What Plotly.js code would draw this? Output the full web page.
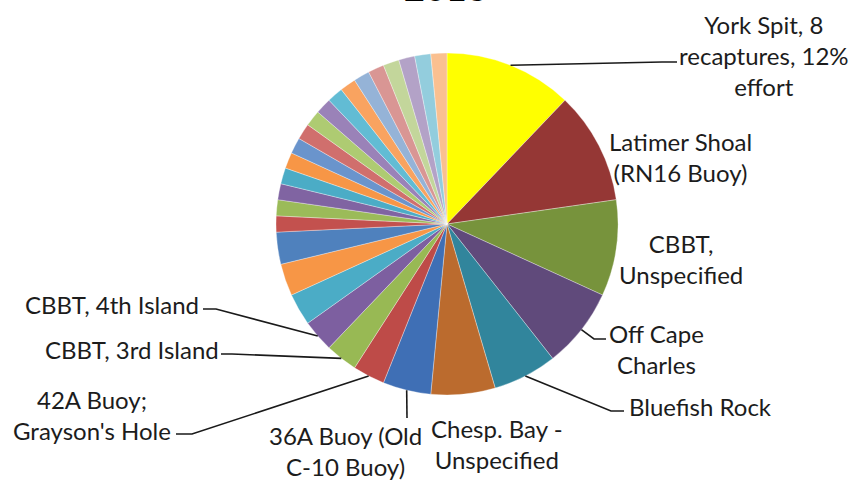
<!DOCTYPE html>
<html>
<head>
<meta charset="utf-8">
<script src="https://cdn.plot.ly/plotly-3.0.1.min.js"></script>
<style>html,body{margin:0;padding:0;background:#fff;}#chart{width:856px;height:483px;}</style>
</head>
<body>
<div id="chart"></div>
<script>
// ---- data ----
const chartTitle = "2013";
const siteNames = [
  "York Spit, 8<br>recaptures, 12%<br>effort",
  "Latimer Shoal<br>(RN16 Buoy)",
  "CBBT,<br>Unspecified",
  "Off Cape<br>Charles",
  "Bluefish Rock",
  "Chesp. Bay -<br>Unspecified",
  "36A Buoy (Old<br>C-10 Buoy)",
  "42A Buoy;<br>Grayson's Hole",
  "CBBT, 3rd Island",
  "CBBT, 4th Island",
  "Site 11","Site 12","Site 13","Site 14","Site 15","Site 16","Site 17","Site 18","Site 19","Site 20",
  "Site 21","Site 22","Site 23","Site 24","Site 25","Site 26","Site 27","Site 28","Site 29","Site 30"
];
const recaptures = [8, 7, 6, 5, 4, 4, 3, 2, 2, 2, 2, 2, 2,
  1, 1, 1, 1, 1, 1, 1, 1, 1, 1, 1, 1, 1, 1, 1, 1, 1];
const labelShown = [true,true,true,true,true,true,true,true,true,true];

// ---- styles ----
const sliceColors = [
  "#FFFF00","#953735","#77933C","#604A7B","#31859C","#BB6B2E","#3F6FB5",
  "#BE4B48","#98B954","#7D5FA0","#4BACC6","#F79646","#4F81BD",
  "#C3514E","#9BBB59","#8064A2","#4BACC6","#F79646","#6A94CC",
  "#D06F6D","#AECB72","#9A82B8","#62BCD4","#F9A360",
  "#95B3D7","#D99694","#C3D69B","#B3A2C7","#93CDDD","#FAC090"
];
const W = 856, H = 483;
const CX = 447, CY = 224, R = 171;
const labelFont = {family: 'Lato, "Open Sans", sans-serif', size: 24, color: '#1c1c1c'};
// label layout: text centre (px) and leader elbow/end points (px) or null
const labelLayout = [
  {x:764, y:55, path:[[662,62],[677,62]]},
  {x:680, y:157, path:null},
  {x:681, y:259, path:null},
  {x:656, y:349, path:[[594,339],[606,339]]},
  {x:700, y:406, path:[[611,411],[624,411]]},
  {x:497, y:444, path:null},
  {x:345, y:451, path:[[407,418]]},
  {x:92,  y:415, path:[[192,434],[176,434]]},
  {x:132, y:349, path:[[232,354],[221,354]]},
  {x:112, y:304, path:[[216,309],[203,309]]}
];

const total = recaptures.reduce((a,b)=>a+b,0);
const px = x => x / W, py = y => 1 - y / H;

const annotations = [];
const shapes = [];
let cum = 0;
recaptures.forEach((v, i) => {
  const mid = (cum + v / 2) / total * 2 * Math.PI;
  cum += v;
  if (i >= labelLayout.length || !labelShown[i]) return;
  const L = labelLayout[i];
  annotations.push({
    x: px(L.x), y: py(L.y), xref: 'paper', yref: 'paper',
    xanchor: 'center', yanchor: 'middle', align: 'center',
    text: siteNames[i], showarrow: false, font: labelFont
  });
  if (L.path) {
    const ax = CX + R * Math.sin(mid), ay = CY - R * Math.cos(mid);
    let d = 'M ' + px(ax) + ' ' + py(ay);
    L.path.forEach(p => { d += ' L ' + px(p[0]) + ' ' + py(p[1]); });
    shapes.push({type: 'path', xref: 'paper', yref: 'paper', path: d,
      line: {color: '#1a1a1a', width: 1.6}});
  }
});

annotations.push({
  x: px(446), y: py(11), xref: 'paper', yref: 'paper',
  xanchor: 'center', yanchor: 'bottom', showarrow: false,
  text: '<b>' + chartTitle + '</b>',
  font: {family: 'Lato, sans-serif', size: 36, color: '#000'}
});

const trace = {
  type: 'pie',
  labels: siteNames,
  values: recaptures,
  sort: false,
  direction: 'clockwise',
  rotation: 0,
  textinfo: 'none',
  hoverinfo: 'none',
  marker: {colors: sliceColors, line: {color: 'rgba(255,255,255,0.55)', width: 0.6}},
  domain: {x: [px(CX - R), px(CX + R)], y: [py(CY + R), py(CY - R)]},
  showlegend: false
};

Plotly.newPlot('chart', [trace], {
  width: W, height: H,
  margin: {l: 0, r: 0, t: 0, b: 0},
  paper_bgcolor: '#fff',
  showlegend: false,
  annotations: annotations,
  shapes: shapes
}, {displayModeBar: false, staticPlot: true});
</script>
</body>
</html>
